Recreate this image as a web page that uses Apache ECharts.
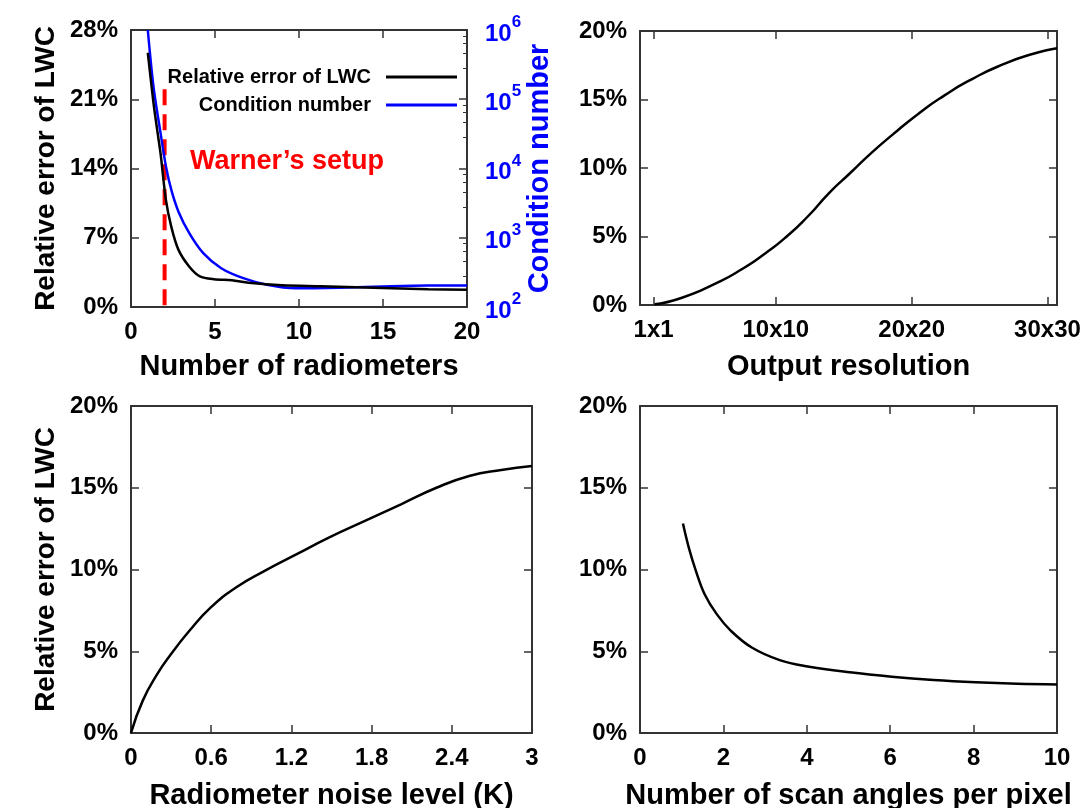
<!DOCTYPE html>
<html lang="en">
<head>
<meta charset="UTF-8">
<title>LWC retrieval error</title>
<style>html,body{margin:0;padding:0;background:#fff;}</style>
</head>
<body>
<div id="main" style="width:1092px;height:808px;"></div>
<script src="https://cdn.jsdelivr.net/npm/echarts@6/dist/echarts.min.js"></script>
<script>
// (a) number of radiometers
const radiometers = [1, 1.34, 1.55, 1.76, 2.08, 2.4, 2.82, 3.46, 4.1, 4.94, 6, 7, 9, 11.3, 13.4, 15.5, 17.7, 20];
const lwcError = [25.7, 20.6, 18.0, 15.5, 10.8, 8.1, 5.8, 4.1, 3.1, 2.8, 2.7, 2.45, 2.2, 2.1, 2.0, 1.9, 1.8, 1.75];
const condX = [1, 1.34, 1.76, 2.08, 2.4, 2.82, 3.46, 4.3, 5.37, 6.64, 8.1, 9.8, 12.4, 15.5, 17.7, 20];
const condNumber = [1000000, 151000, 32400, 10700, 4900, 2400, 1175, 600, 363, 263, 209, 186, 190, 200, 204, 204];
const warnerX = 2;
const warnerTop = 22;

// (b) output resolution (side length n of n x n)
const resolution = [1.08, 3.09, 5.66, 7.46, 9.26, 10.8, 12.35, 13.9, 15.44, 16.98, 18.53, 20.48, 22.39, 24.45, 26.76, 28.82, 30.7];
const resError = [0.05, 0.53, 1.62, 2.59, 3.8, 5.0, 6.46, 8.15, 9.6, 11.05, 12.38, 13.95, 15.28, 16.49, 17.58, 18.3, 18.74];
const resTicks = [1, 10, 20, 30];

// (c) radiometer noise level
const noise = [0, 0.088, 0.196, 0.3, 0.437, 0.597, 0.785, 1.0, 1.24, 1.48, 1.75, 2.02, 2.285, 2.53, 2.77, 3.0];
const noiseError = [0, 1.98, 3.6, 4.83, 6.25, 7.68, 8.9, 9.92, 10.94, 11.95, 12.97, 13.99, 15.0, 15.72, 16.09, 16.33];

// (d) scan angles per pixel
const angles = [1.03, 1.17, 1.34, 1.55, 1.84, 2.18, 2.68, 3.35, 4.02, 5.03, 6.04, 7.04, 8.05, 9.05, 10];
const anglesError = [12.81, 11.34, 9.92, 8.49, 7.27, 6.25, 5.23, 4.46, 4.07, 3.71, 3.44, 3.24, 3.1, 3.01, 2.97];

const FONT = '"Liberation Sans", Arial, Helvetica, sans-serif';
const FRAME = '#333';
const TICK_FONT = 24;

function pairs(xs, ys) {
  return xs.map(function (x, i) { return [x, ys[i]]; });
}

function axis(extra, withLabels) {
  const a = {
    type: 'value',
    axisLine: {show: true, onZero: false, lineStyle: {color: FRAME, width: 2}},
    axisTick: {show: true, inside: true, length: 8, lineStyle: {color: FRAME, width: 1.5}},
    axisLabel: {show: withLabels, color: '#000', fontFamily: FONT, fontWeight: 'bold', fontSize: TICK_FONT, margin: 13},
    splitLine: {show: false},
    nameTextStyle: {color: '#000', fontFamily: FONT, fontWeight: 'bold', fontSize: 29},
    nameLocation: 'middle'
  };
  return Object.assign(a, extra);
}

function yName(extra) {
  extra.nameTextStyle = {color: '#000', fontFamily: FONT, fontWeight: 'bold', fontSize: 28};
  return extra;
}

function pct(v) {
  return v + '%';
}

let myChart = echarts.init(document.getElementById('main'));

const grids = [
  {left: 131, top: 30, width: 336, height: 277},
  {left: 640, top: 31, width: 417, height: 274},
  {left: 131, top: 406, width: 401, height: 327},
  {left: 640, top: 406, width: 417, height: 327}
];
grids.forEach(function (g) { g.outerBoundsMode = 'none'; });

const legendText = {fontFamily: FONT, fontWeight: 'bold', fontSize: 20, color: '#000', padding: [0, 10, 0, 0]};
const legendIcon = 'path://M0,9 L71,9 L71,12 L0,12 Z';

const option = {
  animation: false,
  backgroundColor: '#fff',
  grid: grids,
  legend: [
    {
      data: ['Relative error of LWC'], right: 630, top: 62, align: 'right',
      itemWidth: 71, itemHeight: 20, icon: legendIcon, itemStyle: {color: '#000'}, textStyle: legendText
    },
    {
      data: ['Condition number'], right: 630, top: 90, align: 'right',
      itemWidth: 71, itemHeight: 20, icon: legendIcon, itemStyle: {color: '#0000ff'}, textStyle: legendText
    }
  ],
  graphic: [{
    type: 'text', left: 190, top: 148,
    style: {text: 'Warner\u2019s setup', fill: '#ff0000', fontFamily: FONT, fontWeight: 'bold', fontSize: 27}
  }],
  xAxis: [
    axis({gridIndex: 0, min: 0, max: 20, interval: 5, name: 'Number of radiometers', nameGap: 45}, true),
    axis({gridIndex: 0, min: 0, max: 20, interval: 5, position: 'top'}, false),
    axis({gridIndex: 1, min: 0, max: 30.7, name: 'Output resolution', nameGap: 47,
      axisTick: {show: true, inside: true, length: 8, customValues: resTicks, lineStyle: {color: FRAME, width: 1.5}},
      axisLabel: {show: true, customValues: resTicks, color: '#000', fontFamily: FONT, fontWeight: 'bold', fontSize: TICK_FONT, margin: 13,
        formatter: function (v) { return v + 'x' + v; }}}, true),
    axis({gridIndex: 1, min: 0, max: 30.7, position: 'top',
      axisTick: {show: true, inside: true, length: 8, customValues: resTicks, lineStyle: {color: FRAME, width: 1.5}}}, false),
    axis({gridIndex: 2, min: 0, max: 3, interval: 0.6, name: 'Radiometer noise level (K)', nameGap: 48}, true),
    axis({gridIndex: 2, min: 0, max: 3, interval: 0.6, position: 'top'}, false),
    axis({gridIndex: 3, min: 0, max: 10, interval: 2, name: 'Number of scan angles per pixel', nameGap: 48}, true),
    axis({gridIndex: 3, min: 0, max: 10, interval: 2, position: 'top'}, false)
  ],
  yAxis: [
    axis(yName({gridIndex: 0, min: 0, max: 28, interval: 7, name: 'Relative error of LWC', nameGap: 71, nameRotate: 90}), true),
    {
      type: 'log', logBase: 10, gridIndex: 0, min: 100, max: 1000000, position: 'right',
      axisLine: {show: true, onZero: false, lineStyle: {color: FRAME, width: 2}},
      axisTick: {show: true, inside: true, length: 8, lineStyle: {color: FRAME, width: 1.5}},
      minorTick: {show: true, splitNumber: 5, length: 4, lineStyle: {color: FRAME, width: 1}},
      splitLine: {show: false},
      axisLabel: {
        color: '#0000ff', margin: 18,
        formatter: function (v) { return '{b|10}{s|' + Math.round(Math.log10(v)) + '}'; },
        rich: {
          b: {fontFamily: FONT, fontWeight: 'bold', fontSize: 24, color: '#0000ff', lineHeight: 32, verticalAlign: 'bottom'},
          s: {fontFamily: FONT, fontWeight: 'bold', fontSize: 17, color: '#0000ff', lineHeight: 32, verticalAlign: 'top'}
        }
      },
      name: 'Condition number', nameLocation: 'middle', nameRotate: 90, nameGap: 56,
      nameTextStyle: {color: '#0000ff', fontFamily: FONT, fontWeight: 'bold', fontSize: 29}
    },
    axis({gridIndex: 1, min: 0, max: 20, interval: 5}, true),
    axis({gridIndex: 1, min: 0, max: 20, interval: 5, position: 'right'}, false),
    axis(yName({gridIndex: 2, min: 0, max: 20, interval: 5, name: 'Relative error of LWC', nameGap: 71, nameRotate: 90}), true),
    axis({gridIndex: 2, min: 0, max: 20, interval: 5, position: 'right'}, false),
    axis({gridIndex: 3, min: 0, max: 20, interval: 5}, true),
    axis({gridIndex: 3, min: 0, max: 20, interval: 5, position: 'right'}, false)
  ],
  series: [
    {
      name: 'Relative error of LWC', type: 'line', xAxisIndex: 0, yAxisIndex: 0, smooth: 0.3,
      symbol: 'none', lineStyle: {color: '#000', width: 2.5}, itemStyle: {color: '#000'},
      data: pairs(radiometers, lwcError), z: 3
    },
    {
      name: 'Condition number', type: 'line', xAxisIndex: 0, yAxisIndex: 1, smooth: 0.3,
      symbol: 'none', lineStyle: {color: '#0000ff', width: 2.5}, itemStyle: {color: '#0000ff'},
      data: pairs(condX, condNumber), z: 2
    },
    {
      name: 'Warner', type: 'line', xAxisIndex: 0, yAxisIndex: 0, symbol: 'none',
      lineStyle: {color: '#ff0000', width: 4, type: [16, 9]},
      data: [[warnerX, warnerTop], [warnerX, 0]], z: 1
    },
    {
      name: 'resolution', type: 'line', xAxisIndex: 2, yAxisIndex: 2, smooth: 0.6, symbol: 'none',
      lineStyle: {color: '#000', width: 2.5}, data: pairs(resolution, resError)
    },
    {
      name: 'noise', type: 'line', xAxisIndex: 4, yAxisIndex: 4, smooth: 0.5, symbol: 'none',
      lineStyle: {color: '#000', width: 2.5}, data: pairs(noise, noiseError)
    },
    {
      name: 'angles', type: 'line', xAxisIndex: 6, yAxisIndex: 6, smooth: 0.4, symbol: 'none',
      lineStyle: {color: '#000', width: 2.5}, data: pairs(angles, anglesError)
    }
  ]
};

option.yAxis.forEach(function (a) {
  if (a.axisLabel && a.axisLabel.show && !a.axisLabel.formatter && a.type === 'value') {
    a.axisLabel.formatter = pct;
    a.axisLabel.padding = [4, 0, 0, 0];
  }
});

myChart.setOption(option);
</script>
</body>
</html>
